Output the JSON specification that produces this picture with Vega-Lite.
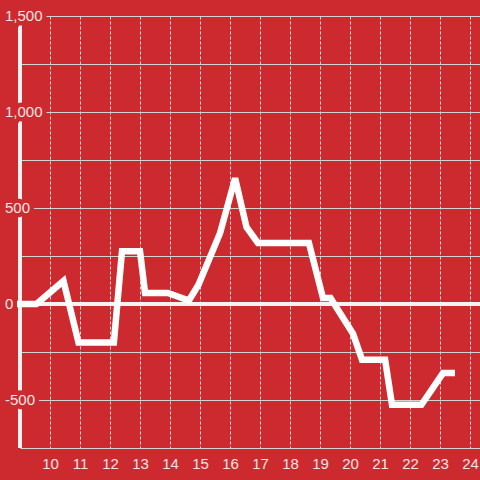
{
  "$schema": "https://vega.github.io/schema/vega-lite/v6.json",
  "width": 460,
  "height": 432,
  "autosize": {"type": "none"},
  "padding": {"left": 20, "top": 16, "right": 0, "bottom": 32},
  "background": "#cd2a2f",
  "config": {
    "view": {"stroke": null},
    "font": "Liberation Sans",
    "axis": {"labelFont": "Liberation Sans", "labelFontSize": 15, "labelColor": "#f6e4e4"}
  },
  "datasets": {
    "series": [
      {"hour": 8.9, "value": 0},
      {"hour": 9.55, "value": 0},
      {"hour": 10.45, "value": 120},
      {"hour": 10.95, "value": -200},
      {"hour": 12.13, "value": -200},
      {"hour": 12.4, "value": 275},
      {"hour": 13.0, "value": 275},
      {"hour": 13.17, "value": 57},
      {"hour": 13.93, "value": 57},
      {"hour": 14.63, "value": 18},
      {"hour": 14.95, "value": 100},
      {"hour": 15.67, "value": 370},
      {"hour": 16.17, "value": 655},
      {"hour": 16.55, "value": 400},
      {"hour": 16.93, "value": 318},
      {"hour": 18.63, "value": 318},
      {"hour": 19.1, "value": 31},
      {"hour": 19.35, "value": 31},
      {"hour": 20.1, "value": -155},
      {"hour": 20.4, "value": -290},
      {"hour": 21.17, "value": -290},
      {"hour": 21.4, "value": -525},
      {"hour": 22.38, "value": -525},
      {"hour": 23.1, "value": -360},
      {"hour": 23.5, "value": -360}
    ],
    "ylabels": [
      {"tick": -500, "label": "-500"}, {"tick": 0, "label": "0"}, {"tick": 500, "label": "500"}, {"tick": 1000, "label": "1,000"}, {"tick": 1500, "label": "1,500"}
    ]
  },
  "layer": [
    {
      "data": {"name": "series"},
      "mark": {"type": "rule", "color": "#f2f2f2", "strokeWidth": 3},
      "encoding": {
        "x": {"datum": 9, "type": "quantitative",
          "scale": {"domain": [9, 24.333], "nice": false, "zero": false},
          "axis": {
            "title": null, "values": [10,11,12,13,14,15,16,17,18,19,20,21,22,23,24],
            "domain": false, "ticks": false, "tickSize": 0, "labelPadding": 8,
            "grid": true, "gridColor": "#dcdcdc", "gridWidth": 1, "gridDash": [3, 2], "gridOpacity": 1,
            "labelFlush": false, "zindex": 0
          }
        }
      }
    },
    {
      "data": {"name": "series"},
      "mark": {"type": "rule", "color": "#f4f4f4", "strokeWidth": 3},
      "encoding": {
        "y": {"datum": 0, "type": "quantitative",
          "scale": {"domain": [-750, 1500], "nice": false, "zero": false},
          "axis": {
            "title": null, "values": [-750,-500,-250,0,250,500,750,1000,1250,1500],
            "labels": false, "domain": false,
            "ticks": false, "tickSize": 0,
            "grid": true, "gridColor": "#d4d4d4", "gridWidth": 1, "gridOpacity": 1, "zindex": 0
          }
        }
      }
    },
    {
      "data": {"name": "ylabels"},
      "mark": {"type": "text", "align": "left", "baseline": "middle", "dx": -15, "fontSize": 15, "font": "Liberation Sans", "fill": "#cd2a2f", "stroke": "#cd2a2f", "strokeWidth": 9, "strokeJoin": "miter"},
      "encoding": {
        "x": {"datum": 9, "type": "quantitative",
          "scale": {"domain": [9, 24.333], "nice": false, "zero": false},
          "axis": {
            "title": null, "values": [10,11,12,13,14,15,16,17,18,19,20,21,22,23,24],
            "domain": false, "ticks": false, "tickSize": 0, "labelPadding": 8,
            "grid": true, "gridColor": "#dcdcdc", "gridWidth": 1, "gridDash": [3, 2], "gridOpacity": 1,
            "labelFlush": false, "zindex": 0
          }
        },
        "y": {"field": "tick", "type": "quantitative",
          "scale": {"domain": [-750, 1500], "nice": false, "zero": false},
          "axis": {
            "title": null, "values": [-750,-500,-250,0,250,500,750,1000,1250,1500],
            "labels": false, "domain": false,
            "ticks": false, "tickSize": 0,
            "grid": true, "gridColor": "#d4d4d4", "gridWidth": 1, "gridOpacity": 1, "zindex": 0
          }
        },
        "text": {"field": "label"}
      }
    },
    {
      "data": {"name": "ylabels"},
      "mark": {"type": "text", "align": "left", "baseline": "middle", "dx": -15, "fontSize": 15, "font": "Liberation Sans", "fill": "#f6e4e4"},
      "encoding": {
        "x": {"datum": 9, "type": "quantitative",
          "scale": {"domain": [9, 24.333], "nice": false, "zero": false},
          "axis": {
            "title": null, "values": [10,11,12,13,14,15,16,17,18,19,20,21,22,23,24],
            "domain": false, "ticks": false, "tickSize": 0, "labelPadding": 8,
            "grid": true, "gridColor": "#dcdcdc", "gridWidth": 1, "gridDash": [3, 2], "gridOpacity": 1,
            "labelFlush": false, "zindex": 0
          }
        },
        "y": {"field": "tick", "type": "quantitative",
          "scale": {"domain": [-750, 1500], "nice": false, "zero": false},
          "axis": {
            "title": null, "values": [-750,-500,-250,0,250,500,750,1000,1250,1500],
            "labels": false, "domain": false,
            "ticks": false, "tickSize": 0,
            "grid": true, "gridColor": "#d4d4d4", "gridWidth": 1, "gridOpacity": 1, "zindex": 0
          }
        },
        "text": {"field": "label"}
      }
    },
    {
      "data": {"name": "series"},
      "mark": {"type": "line", "color": "#ffffff", "strokeWidth": 6.5, "strokeJoin": "miter", "strokeCap": "butt"},
      "encoding": {
        "x": {
          "field": "hour", "type": "quantitative",
          "scale": {"domain": [9, 24.333], "nice": false, "zero": false},
          "axis": {
            "title": null, "values": [10,11,12,13,14,15,16,17,18,19,20,21,22,23,24],
            "domain": false, "ticks": false, "tickSize": 0, "labelPadding": 8,
            "grid": true, "gridColor": "#dcdcdc", "gridWidth": 1, "gridDash": [3, 2], "gridOpacity": 1,
            "labelFlush": false, "zindex": 0
          }
        },
        "y": {
          "field": "value", "type": "quantitative",
          "scale": {"domain": [-750, 1500], "nice": false, "zero": false},
          "axis": {
            "title": null, "values": [-750,-500,-250,0,250,500,750,1000,1250,1500],
            "labels": false, "domain": false,
            "ticks": false, "tickSize": 0,
            "grid": true, "gridColor": "#d4d4d4", "gridWidth": 1, "gridOpacity": 1, "zindex": 0
          }
        }
      }
    }
  ]
}
